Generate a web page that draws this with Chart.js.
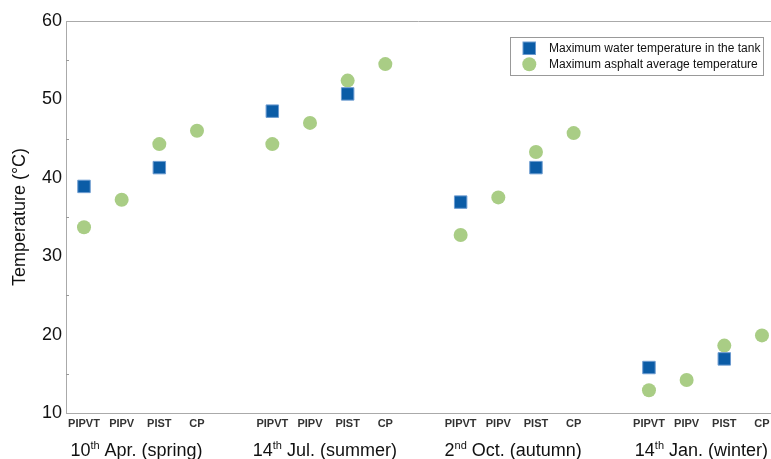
<!DOCTYPE html>
<html><head><meta charset="utf-8">
<script src="https://cdn.jsdelivr.net/npm/chart.js@4"></script>
<style>html,body{margin:0;padding:0;background:#fff}canvas{display:block}</style>
</head><body><canvas id="c" width="771" height="459"></canvas>
<script>
// ---- data ----
const subCategories = ['PIPVT', 'PIPV', 'PIST', 'CP'];
const seasonNum = ['10', '14', '2', '14'];
const seasonSup = ['th', 'th', 'nd', 'th'];
const seasonText = [' Apr. (spring)', ' Jul. (summer)', ' Oct. (autumn)', ' Jan. (winter)'];
const waterTemp = [38.9, null, 41.3, null, 48.5, null, 50.7, null, 36.9, null, 41.3, null, 15.8, null, 16.9, null];
const asphaltTemp = [33.7, 37.2, 44.3, 46.0, 44.3, 47.0, 52.4, 54.5, 32.7, 37.5, 43.3, 45.7, 12.9, 14.2, 18.6, 19.9];
const yTicks = [10, 20, 30, 40, 50, 60];
const seriesNames = ['Maximum water temperature in the tank', 'Maximum asphalt average temperature'];

// category index -> x slot (one empty slot between seasons)
const slot = k => Math.floor(k / subCategories.length) * (subCategories.length + 1) + (k % subCategories.length);
const toPoints = arr => arr.map((v, k) => v === null ? null : { x: slot(k), y: v }).filter(p => p);
const xSlots = asphaltTemp.map((v, k) => slot(k));

const FONT = "'Liberation Sans', Arial, Helvetica, sans-serif";
const BLUE = '#0b5ca6', GREEN = '#a9cd85';

const decor = {
  id: 'decor',
  afterDraw(chart) {
    const ctx = chart.ctx, ca = chart.chartArea;
    const xs = chart.scales.x, ys = chart.scales.y;
    ctx.save();
    // top frame line
    ctx.strokeStyle = '#aaa'; ctx.lineWidth = 1;
    ctx.beginPath(); ctx.moveTo(ca.left, Math.round(ca.top) + 0.5); ctx.lineTo(ca.right, Math.round(ca.top) + 0.5); ctx.stroke();
    // minor ticks inside
    ctx.strokeStyle = '#999';
    for (let v = yTicks[0] + 5; v < yTicks[yTicks.length - 1]; v += 10) {
      const y = Math.round(ys.getPixelForValue(v)) + 0.5;
      ctx.beginPath(); ctx.moveTo(ca.left, y); ctx.lineTo(ca.left + 3, y); ctx.stroke();
    }
    // season labels with superscripts
    ctx.fillStyle = '#111'; ctx.textBaseline = 'alphabetic'; ctx.textAlign = 'left';
    const big = '18px ' + FONT, small = '11px ' + FONT;
    for (let g = 0; g < seasonNum.length; g++) {
      ctx.font = big; const w1 = ctx.measureText(seasonNum[g]).width; const w3 = ctx.measureText(seasonText[g]).width;
      ctx.font = small; const w2 = ctx.measureText(seasonSup[g]).width;
      const cx = xs.getPixelForValue(g * (subCategories.length + 1) + (subCategories.length - 1) / 2) - 4;
      let x = cx - (w1 + w2 + w3) / 2; const base = 456;
      ctx.font = big; ctx.fillText(seasonNum[g], x, base); x += w1;
      ctx.font = small; ctx.fillText(seasonSup[g], x, base - 7); x += w2;
      ctx.font = big; ctx.fillText(seasonText[g], x, base);
    }
    // legend
    ctx.strokeStyle = '#999'; ctx.lineWidth = 1;
    ctx.strokeRect(510.5, 37.5, 253, 38);
    ctx.fillStyle = BLUE; ctx.fillRect(523, 42, 12.5, 12.5);
    ctx.strokeStyle = '#6c9bd0'; ctx.strokeRect(523, 42, 12.5, 12.5);
    ctx.fillStyle = GREEN; ctx.beginPath(); ctx.arc(529.3, 64.3, 7, 0, Math.PI * 2); ctx.fill();
    ctx.fillStyle = '#111'; ctx.font = '12px ' + FONT; ctx.textBaseline = 'middle';
    ctx.fillText(seriesNames[0], 549, 48.5);
    ctx.fillText(seriesNames[1], 549, 64.5);
    ctx.restore();
  }
};

new Chart(document.getElementById('c'), {
  type: 'scatter',
  data: {
    datasets: [
      { label: seriesNames[0], data: toPoints(waterTemp), pointStyle: 'rect', pointRadius: 8.8, pointHoverRadius: 8.8,
        backgroundColor: BLUE, borderColor: '#6c9bd0', borderWidth: 1 },
      { label: seriesNames[1], data: toPoints(asphaltTemp), pointStyle: 'circle', pointRadius: 7, pointHoverRadius: 7,
        backgroundColor: GREEN, borderColor: GREEN, borderWidth: 0 }
    ]
  },
  options: {
    responsive: false, animation: false, devicePixelRatio: 1,
    layout: { autoPadding: false, padding: { top: 21, left: 0, right: 0, bottom: 0 } },
    plugins: { legend: { display: false }, tooltip: { enabled: false } },
    scales: {
      x: {
        type: 'linear', min: -0.478, max: 18.24,
        afterBuildTicks: s => { s.ticks = xSlots.map(v => ({ value: v })); },
        afterFit: s => { s.height = 46; s.paddingLeft = 0; s.paddingRight = 0; },
        ticks: { autoSkip: false, maxRotation: 0, padding: 4, color: '#333', font: { family: FONT, size: 11, weight: 'bold' },
          callback: v => subCategories[v % (subCategories.length + 1)] || '' },
        grid: { drawOnChartArea: false, drawTicks: false },
        border: { display: true, color: '#aaa', width: 1 }
      },
      y: {
        min: 10, max: 60,
        afterBuildTicks: s => { s.ticks = yTicks.map(v => ({ value: v })); },
        afterFit: s => { s.width = 66; },
        ticks: { padding: 4, color: '#111', font: { family: FONT, size: 18 } },
        grid: { drawOnChartArea: false, drawTicks: false },
        border: { display: true, color: '#aaa', width: 1 },
        title: { display: true, text: 'Temperature (°C)', color: '#111', font: { family: FONT, size: 18 }, padding: { top: 9, bottom: 0 } }
      }
    }
  },
  plugins: [decor]
});
</script>
</body></html>
